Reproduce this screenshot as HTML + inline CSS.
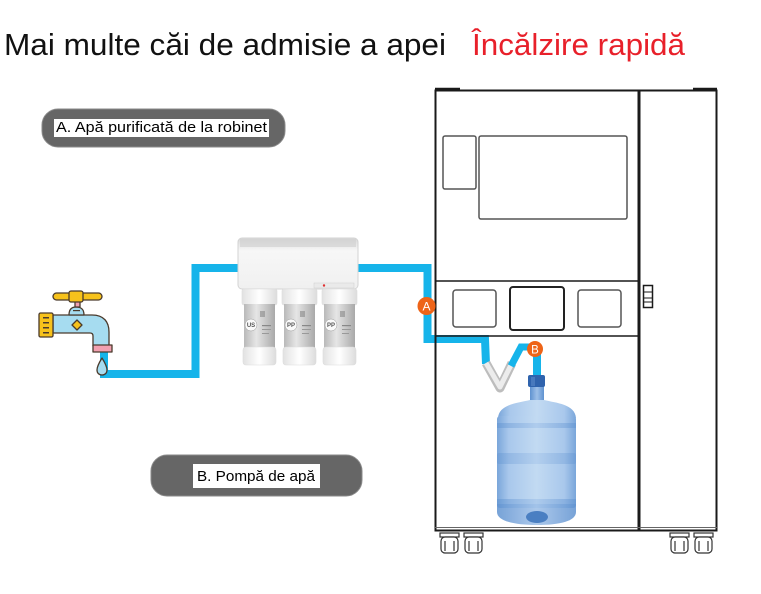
<!DOCTYPE html>
<html>
<head>
<meta charset="utf-8">
<style>
  html,body{margin:0;padding:0;background:#fff;}
  body{width:761px;height:594px;overflow:hidden;}
  svg{display:block;}
  text{font-family:"Liberation Sans", sans-serif;}
</style>
</head>
<body>
<svg width="761" height="594" viewBox="0 0 761 594" xmlns="http://www.w3.org/2000/svg">
  <defs>
    <linearGradient id="bottleG" x1="0" x2="1" y1="0" y2="0">
      <stop offset="0" stop-color="#7aa6da"/>
      <stop offset="0.15" stop-color="#a9c8ec"/>
      <stop offset="0.5" stop-color="#c2daf2"/>
      <stop offset="0.85" stop-color="#a9c8ec"/>
      <stop offset="1" stop-color="#7aa6da"/>
    </linearGradient>
    <linearGradient id="ringG" x1="0" x2="1" y1="0" y2="0">
      <stop offset="0" stop-color="#5f92d0"/>
      <stop offset="0.5" stop-color="#9dbfe8"/>
      <stop offset="1" stop-color="#5f92d0"/>
    </linearGradient>
    <linearGradient id="silverG" x1="0" x2="1" y1="0" y2="0">
      <stop offset="0" stop-color="#b9b9b9"/>
      <stop offset="0.4" stop-color="#e6e6e6"/>
      <stop offset="1" stop-color="#a9a9a9"/>
    </linearGradient>
    <linearGradient id="capG" x1="0" x2="1" y1="0" y2="0">
      <stop offset="0" stop-color="#e2e2e2"/>
      <stop offset="0.5" stop-color="#ffffff"/>
      <stop offset="1" stop-color="#dcdcdc"/>
    </linearGradient>
    <linearGradient id="housG" x1="0" x2="0" y1="0" y2="1">
      <stop offset="0" stop-color="#d8d8d8"/>
      <stop offset="0.25" stop-color="#f7f7f7"/>
      <stop offset="1" stop-color="#f0f0f0"/>
    </linearGradient>
  </defs>

  <!-- Title -->
  <text x="4" y="55" font-size="31" fill="#111" textLength="442" lengthAdjust="spacingAndGlyphs">Mai multe căi de admisie a apei</text>
  <text x="472" y="55" font-size="31" fill="#e8202a" textLength="213" lengthAdjust="spacingAndGlyphs">Încălzire rapidă</text>

  <!-- Label A -->
  <rect x="42" y="109" width="243" height="38" rx="16" fill="#666" stroke="#8a8a8a" stroke-width="1"/>
  <rect x="54" y="119" width="215" height="18" fill="#fff"/>
  <text x="56" y="132" font-size="14.5" fill="#000" textLength="211" lengthAdjust="spacingAndGlyphs">A. Apă purificată de la robinet</text>

  <!-- Label B -->
  <rect x="151" y="455" width="211" height="41" rx="16" fill="#666" stroke="#8a8a8a" stroke-width="1"/>
  <rect x="193" y="464" width="127" height="24" fill="#fff"/>
  <text x="197" y="481" font-size="14.5" fill="#000" textLength="118" lengthAdjust="spacingAndGlyphs">B. Pompă de apă</text>

  <!-- Pipes -->
  <polyline points="104,350 104,374 195.5,374 195.5,268 240,268" fill="none" stroke="#16b4ea" stroke-width="8" stroke-linejoin="miter"/>
  <polyline points="355,268 427.5,268 427.5,339 485,339 486,364" fill="none" stroke="#16b4ea" stroke-width="8" stroke-linejoin="miter"/>
  <!-- hose -->
  <polyline points="486,363 500,388 512,363" fill="none" stroke="#bdbdbd" stroke-width="9" stroke-linejoin="round"/>
  <polyline points="486,363 500,387 512,363" fill="none" stroke="#ececec" stroke-width="5" stroke-linejoin="round"/>
  <polyline points="511,366 521,347 535,347" fill="none" stroke="#16b4ea" stroke-width="7" stroke-linejoin="miter"/>
  <line x1="537" y1="352" x2="537" y2="378" stroke="#16b4ea" stroke-width="8"/>

  <!-- Machine -->
  <g fill="none" stroke="#1a1a1a">
    <rect x="435.5" y="90.5" width="281" height="440" stroke-width="2"/>
    <line x1="639" y1="90" x2="639" y2="531" stroke-width="3"/>
    <line x1="435" y1="281" x2="639" y2="281" stroke-width="1.6"/>
    <line x1="435" y1="336" x2="639" y2="336" stroke-width="1.6"/>
    <line x1="435" y1="527.5" x2="717" y2="527.5" stroke-width="1" stroke="#666"/>
    <line x1="435" y1="89" x2="460" y2="89" stroke-width="2.5"/>
    <line x1="693" y1="89" x2="717" y2="89" stroke-width="2.5"/>
    <rect x="443" y="136" width="33" height="53" rx="2" stroke="#555" stroke-width="1.5"/>
    <rect x="479" y="136" width="148" height="83" rx="2" stroke="#555" stroke-width="1.5"/>
    <rect x="453" y="290" width="43" height="37" rx="3" stroke="#555" stroke-width="1.5"/>
    <rect x="510" y="287" width="54" height="43" rx="3" stroke="#222" stroke-width="2"/>
    <rect x="578" y="290" width="43" height="37" rx="3" stroke="#555" stroke-width="1.5"/>
    <rect x="643.5" y="285.5" width="9" height="22" stroke-width="1.5"/>
    <line x1="644" y1="292" x2="652" y2="292" stroke-width="1"/>
    <line x1="644" y1="298" x2="652" y2="298" stroke-width="1"/>
    <line x1="644" y1="302" x2="652" y2="302" stroke-width="1"/>
  </g>
  <!-- wheels -->
  <g fill="#fff" stroke="#333" stroke-width="1.2">
    <g transform="translate(440,533)"><rect x="0" y="0" width="19" height="4"/><rect x="1" y="4" width="17" height="16" rx="4"/><line x1="5" y1="8" x2="5" y2="18"/><line x1="14" y1="8" x2="14" y2="18"/></g>
    <g transform="translate(464,533)"><rect x="0" y="0" width="19" height="4"/><rect x="1" y="4" width="17" height="16" rx="4"/><line x1="5" y1="8" x2="5" y2="18"/><line x1="14" y1="8" x2="14" y2="18"/></g>
    <g transform="translate(670,533)"><rect x="0" y="0" width="19" height="4"/><rect x="1" y="4" width="17" height="16" rx="4"/><line x1="5" y1="8" x2="5" y2="18"/><line x1="14" y1="8" x2="14" y2="18"/></g>
    <g transform="translate(694,533)"><rect x="0" y="0" width="19" height="4"/><rect x="1" y="4" width="17" height="16" rx="4"/><line x1="5" y1="8" x2="5" y2="18"/><line x1="14" y1="8" x2="14" y2="18"/></g>
  </g>

  <!-- markers A and B -->
  <circle cx="426.5" cy="306" r="9" fill="#ee6418"/>
  <text x="426.5" y="310.5" font-size="12" fill="#fff" text-anchor="middle">A</text>
  <circle cx="535" cy="349" r="8" fill="#ee6418"/>
  <text x="535" y="353.5" font-size="11.5" fill="#fff" text-anchor="middle">B</text>

  <!-- Bottle -->
  <g>
    <rect x="530" y="386" width="14" height="16" fill="url(#ringG)"/>
    <path d="M530,400 L544,400 C556,403 575,404 576,418 L498,418 C499,404 518,403 530,400 Z" fill="url(#bottleG)"/>
    <rect x="497" y="416" width="79" height="92" rx="3" fill="url(#bottleG)"/>
    <path d="M497,504 L576,504 L576,512 C576,521 560,525 537,525 C514,525 497,521 497,512 Z" fill="url(#ringG)" opacity="0.85"/>
    <rect x="497" y="423" width="79" height="5" fill="url(#ringG)" opacity="0.5"/>
    <rect x="497" y="453" width="79" height="11" rx="2" fill="url(#ringG)" opacity="0.4"/>
    <rect x="497" y="499" width="79" height="5" fill="url(#ringG)" opacity="0.55"/>
    <ellipse cx="537" cy="517" rx="11" ry="6" fill="#4a7fc2"/>
    <rect x="528" y="375" width="17" height="12" rx="2" fill="#2f63ad"/>
    <rect x="531" y="377" width="4" height="9" fill="#5a89c8" opacity="0.6"/>
  </g>

  <!-- Filter -->
  <g>
    <rect x="238" y="238" width="120" height="51" rx="4" fill="url(#housG)" stroke="#d3d3d3" stroke-width="1"/>
    <rect x="240" y="239" width="116" height="8" fill="#cfcfcf" opacity="0.6"/>
    <rect x="314" y="283" width="40" height="5" fill="#eaeaea" stroke="#cfcfcf" stroke-width="0.5"/>
    <circle cx="324" cy="285.5" r="1.2" fill="#e03030"/>
    <g id="can">
      <rect x="242" y="289" width="35" height="16" rx="2" fill="url(#capG)" stroke="#dcdcdc" stroke-width="0.6"/>
      <rect x="244" y="304" width="31" height="44" fill="url(#silverG)"/>
      <rect x="243" y="347" width="33" height="18" rx="3" fill="url(#capG)" stroke="#dcdcdc" stroke-width="0.6"/>
      <circle cx="251" cy="325" r="6" fill="#fafafa" stroke="#999" stroke-width="0.5"/>
      <rect x="260" y="311" width="5" height="6" fill="#888" opacity="0.6"/>
      <rect x="262" y="325" width="9" height="1.2" fill="#888"/>
      <rect x="262" y="329" width="9" height="1" fill="#999"/>
      <rect x="262" y="333" width="7" height="1" fill="#999"/>
    </g>
    <use href="#can" x="40"/>
    <use href="#can" x="80"/>
    <text x="251" y="327" font-size="6" font-weight="bold" fill="#555" text-anchor="middle">US</text>
    <text x="291" y="327" font-size="6" font-weight="bold" fill="#555" text-anchor="middle">PP</text>
    <text x="331" y="327" font-size="6" font-weight="bold" fill="#555" text-anchor="middle">PP</text>
  </g>

  <!-- Faucet -->
  <g stroke="#4a3a2c" stroke-width="1.3" stroke-linejoin="round">
    <path d="M53,315 L92,315 C104,315 109,322 109,332 L109,346 L93,346 L93,336 C93,334 92,333 90,333 L53,333 Z" fill="#a6dcf0"/>
    <path d="M69,315 C69,309 72,307 76,307 C81,307 84,309 84,315 Z" fill="#a6dcf0"/>
    <rect x="75" y="300" width="5" height="7" fill="#f2a0b0"/>
    <rect x="53" y="293" width="49" height="7" rx="3.5" fill="#f7c21b"/>
    <rect x="69" y="291" width="14" height="11" rx="2" fill="#f7c21b"/>
    <rect x="39" y="313" width="14" height="24" rx="1.5" fill="#f7c21b"/>
    <path d="M77,320 L82,325 L77,330 L72,325 Z" fill="#f7c21b"/>
    <rect x="93" y="345" width="19" height="7" fill="#f2a0b0"/>
    <path d="M102,358 C102,358 97,366 97,370 C97,373 99,375 102,375 C105,375 107,373 107,370 C107,366 102,358 102,358 Z" fill="#a6dcf0"/>
  </g>
  <g fill="#4a3a2c">
    <rect x="43" y="317" width="6" height="1.5"/>
    <rect x="43" y="322" width="6" height="1.5"/>
    <rect x="43" y="327" width="6" height="1.5"/>
    <rect x="43" y="332" width="6" height="1.5"/>
    <rect x="73" y="310" width="7" height="1.2"/>
  </g>
</svg>
</body>
</html>
